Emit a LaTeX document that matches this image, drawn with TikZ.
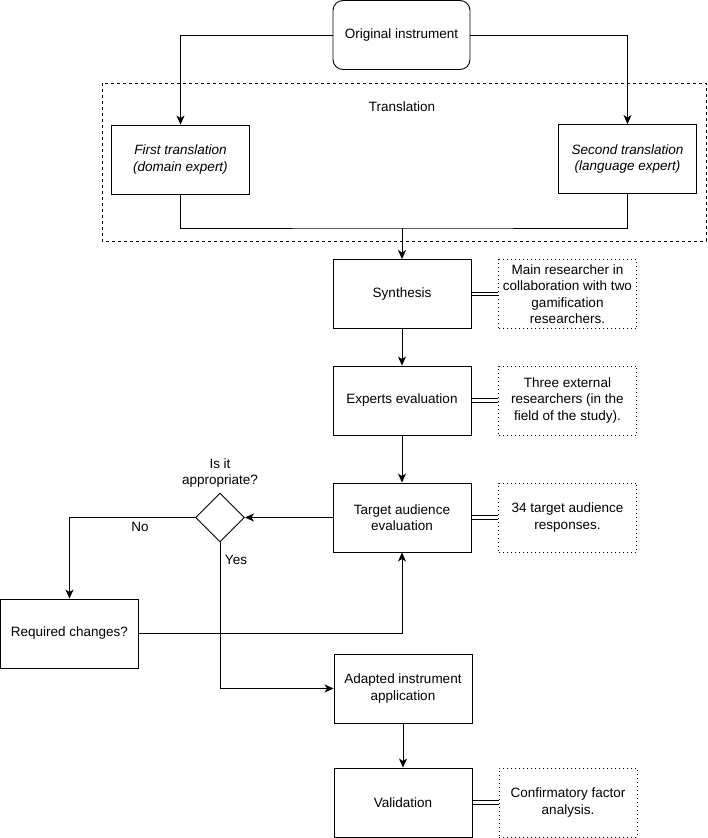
\documentclass[tikz,border=0pt]{standalone}
\usepackage{fontspec}
\setmainfont{Liberation Sans}
\usetikzlibrary{shapes.geometric,arrows.meta}
\begin{document}
\begin{tikzpicture}[x=1pt,y=-1pt,
  every node/.style={font=\fontsize{13.5}{16.5}\selectfont},
  stepbox/.style={draw,line width=0.9pt,minimum width=138pt,minimum height=69pt,align=center,inner sep=0pt},
  notebox/.style={draw,line width=0.9pt,dash pattern=on 1pt off 3pt,minimum width=138pt,minimum height=69pt,align=center,inner sep=0pt},
  arr/.style={line width=0.9pt,-{Stealth[length=9pt,width=8pt,inset=2.5pt]}},
  conn/.style={line width=0.9pt},
  dl/.style={line width=0.8pt}
]
\useasboundingbox (0,0) rectangle (707,838);
% translation frame
\draw[line width=0.9pt,dash pattern=on 3pt off 3pt] (102,83) rectangle (706,241);
\node (tlabel) at (402,107) {Translation};

\node[stepbox,rounded corners=10pt,minimum width=137pt] (orig) at (401.5,35) {Original instrument};
\node[stepbox] (first) at (180.5,159.5) {\itshape First translation\\\itshape (domain expert)};
\node[stepbox] (second) at (627.5,159) {\itshape Second translation\\\itshape (language expert)};

\node[stepbox] (synth) at (402,294) {Synthesis};
\node[notebox] (n1) at (567.5,294) {Main researcher in\\collaboration with two\\gamification\\researchers.};
\node[stepbox] (expert) at (402,400.5) {Experts evaluation};
\node[notebox] (n2) at (567.5,400.5) {Three external\\researchers (in the\\field of the study).};
\node[stepbox] (target) at (402,517.5) {Target audience\\evaluation};
\node[notebox] (n3) at (567.5,517.5) {34 target audience\\responses.};

\node[draw,line width=0.9pt,diamond,aspect=1,minimum size=49pt,inner sep=0pt] (dia) at (220,517.5) {};
\node[align=center] (qtext) at (220,473) {Is it\\appropriate?};
\node (nolabel) at (140,527) {No};
\node (yeslabel) at (236,560) {Yes};

\node[stepbox] (req) at (69.5,633.5) {Required changes?};
\node[stepbox] (adapt) at (403,688.5) {Adapted instrument\\application};
\node[stepbox] (valid) at (403,802.5) {Validation};
\node[notebox] (n4) at (568,802.5) {Confirmatory factor\\analysis.};

\coordinate (jy) at (402,228);
\draw[arr] (orig.west) -| (first.north);
\draw[arr] (orig.east) -| (second.north);
\draw[conn] (first.south) |- (jy) -| (second.south);
\draw[arr] (jy) -- (synth.north);
\draw[arr] (synth) -- (expert);
\draw[arr] (expert) -- (target);
\draw[arr] (target.west) -- (dia.east);
\draw[arr] (dia.west) -| (req.north);
\draw[arr] (req.east) -| (target.south);
\draw[arr] (dia.south) |- (adapt.west);
\draw[arr] (adapt) -- (valid);

\foreach \a/\b in {synth/n1,expert/n2,target/n3,valid/n4}{
  \draw[dl] ([yshift=-1.7pt]\a.east) -- ([yshift=-1.7pt]\b.west);
  \draw[dl] ([yshift=1.7pt]\a.east) -- ([yshift=1.7pt]\b.west);
}
\end{tikzpicture}
\end{document}
